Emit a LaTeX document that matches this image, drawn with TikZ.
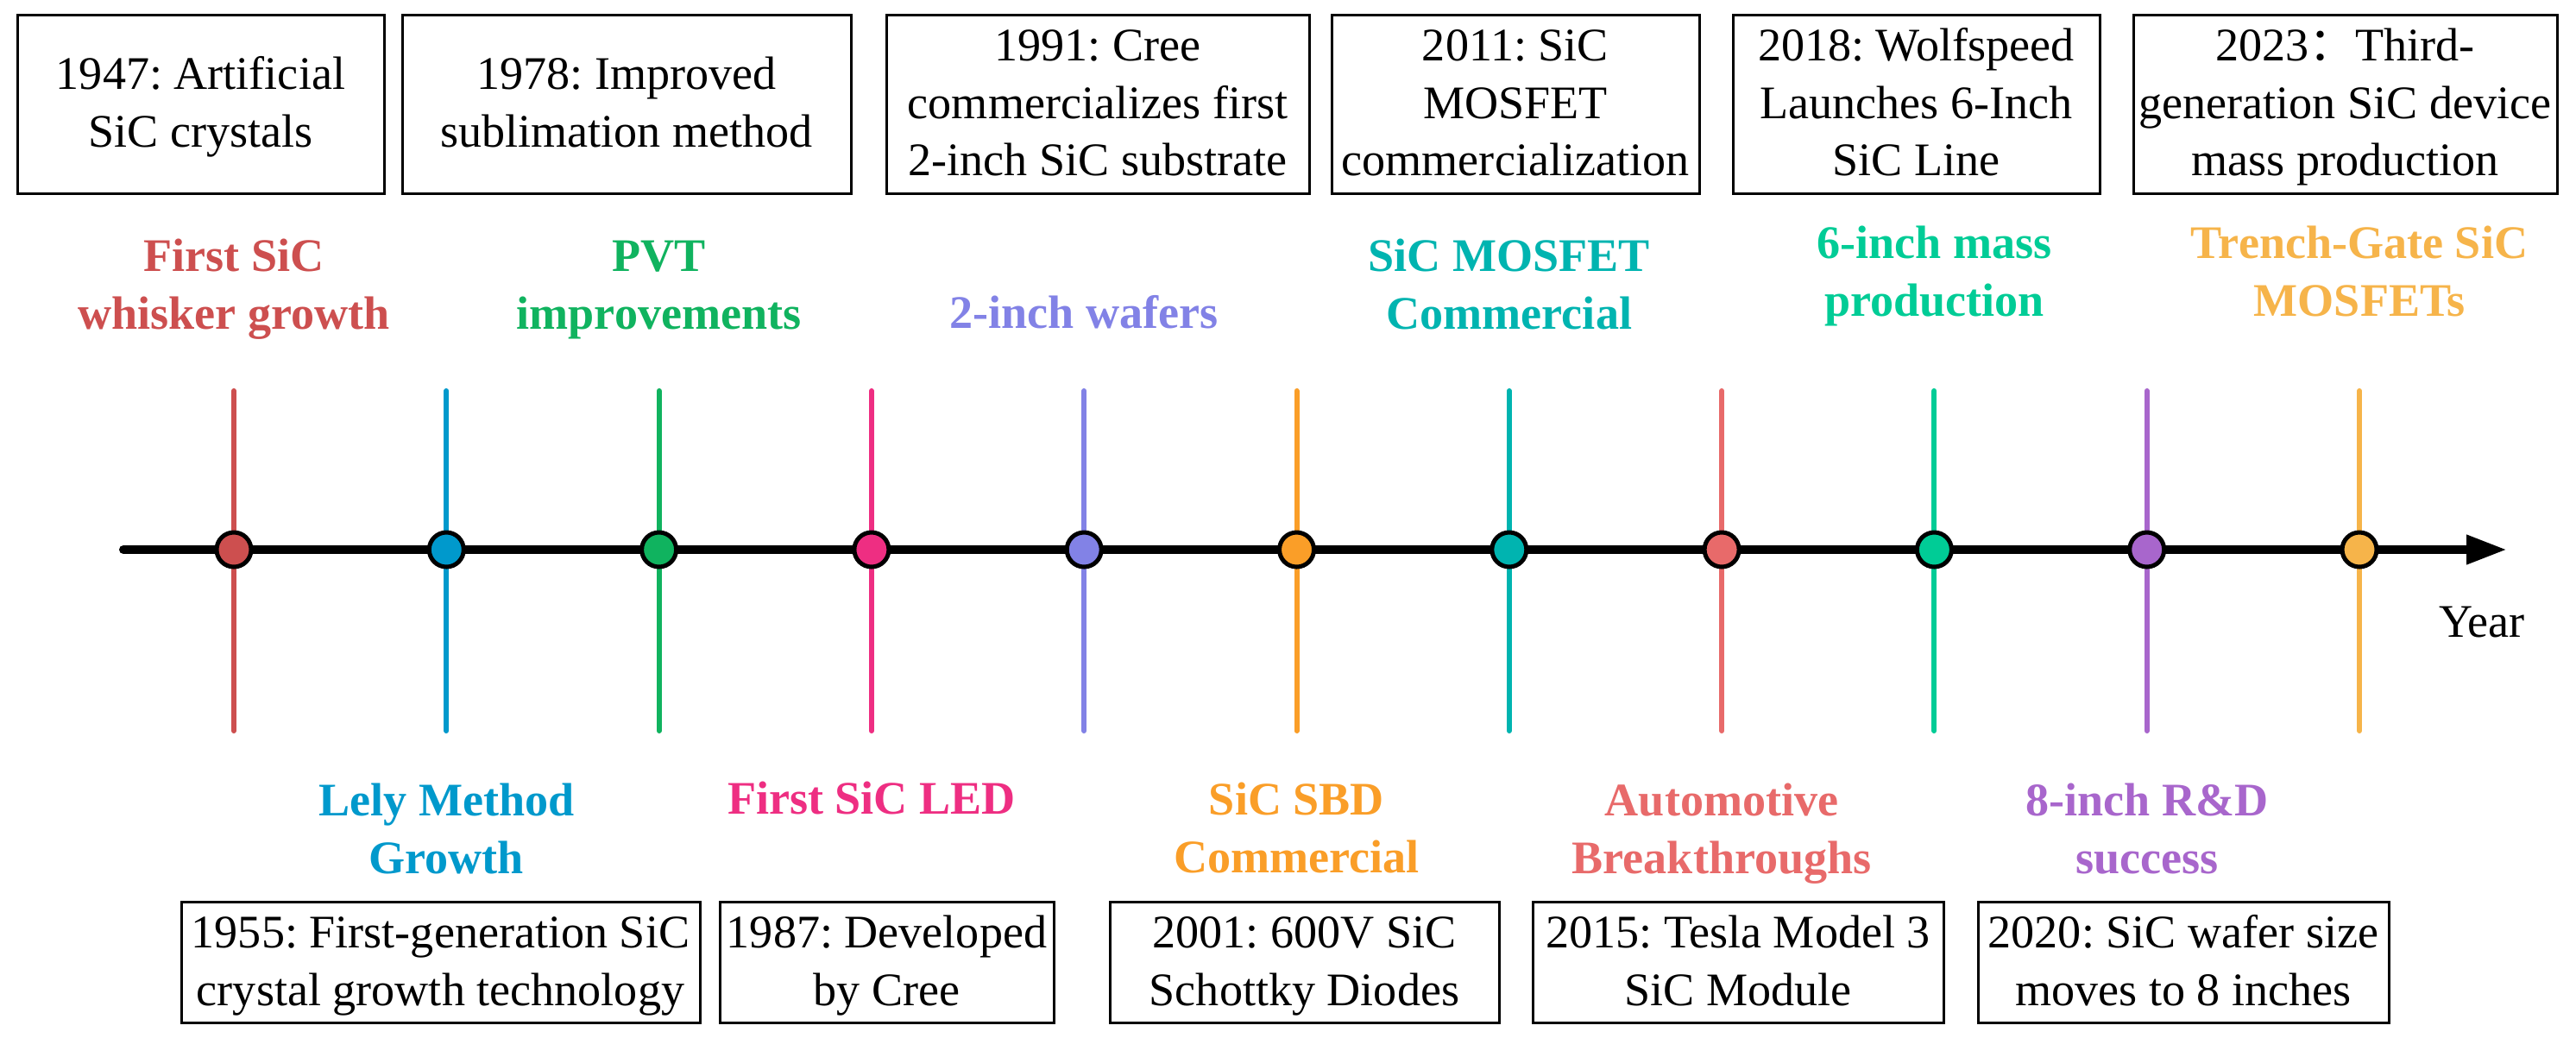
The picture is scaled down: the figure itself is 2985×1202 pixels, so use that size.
\documentclass[tikz,border=0pt]{standalone}
\usepackage{fontspec}
\setmainfont{Liberation Serif}
\newfontfamily\cjkfont{Noto Sans CJK SC}
\usetikzlibrary{arrows.meta}
\frenchspacing
\definecolor{c0}{HTML}{CD4F4F}
\definecolor{c1}{HTML}{0099CC}
\definecolor{c2}{HTML}{10B35F}
\definecolor{c3}{HTML}{EE2E82}
\definecolor{c4}{HTML}{8282E6}
\definecolor{c5}{HTML}{FA9E28}
\definecolor{c6}{HTML}{00B4B0}
\definecolor{c7}{HTML}{E86A6A}
\definecolor{c8}{HTML}{00CC96}
\definecolor{c9}{HTML}{A866CC}
\definecolor{c10}{HTML}{F6B44A}
\newcommand\ms{\rule[-3.5pt]{0pt}{16.5pt}}
\tikzset{
  txt/.style={font=\fontsize{15.4pt}{19pt}\selectfont\frenchspacing, align=center, inner sep=0pt},
  lab/.style={txt, font=\fontsize{15.4pt}{19pt}\selectfont\bfseries\frenchspacing},
  evbox/.style={txt, draw=black, line width=0.3mm},
  dot/.style={circle, draw=black, line width=0.5mm, minimum size=4mm, inner sep=0pt},
  vline/.style={line width=0.6mm, line cap=round},
}
\begin{document}
\begin{tikzpicture}[x=0.1mm,y=-0.1mm]
\path[fill=white, use as bounding box] (0,0) rectangle (2985,1202);

% vertical lines
\foreach \i/\c in {0/c0,1/c1,2/c2,3/c3,4/c4,5/c5,6/c6,7/c7,8/c8,9/c9,10/c10}{
  \coordinate (t\i) at ({271+246.3*\i},453);
  \coordinate (b\i) at ({271+246.3*\i},847);
  \draw[vline, draw=\c] (t\i) -- (b\i);
}

% axis
\coordinate (axs) at (143,637);
\coordinate (axe) at (2905,637);
\draw[line width=1mm, line cap=round, -{Triangle[length=4.7mm,width=3.2mm]}] (axs) -- (axe);

% dots
\foreach \i/\c in {0/c0,1/c1,2/c2,3/c3,4/c4,5/c5,6/c6,7/c7,8/c8,9/c9,10/c10}{
  \node[dot, fill=\c] (d\i) at ({271+246.3*\i},637) {};
}

\node[txt] (year) at (2876,721.5) {\ms Year};

% top labels
\node[lab, text=c0] (l0) at (271,331) {\ms First SiC\\\ms whisker growth};
\node[lab, text=c2] (l2) at (763.6,331) {\ms PVT\\\ms improvements};
\node[lab, text=c4] (l4) at (1256.2,364) {\ms 2-inch wafers};
\node[lab, text=c6] (l6) at (1748.8,331) {\ms SiC MOSFET\\\ms Commercial};
\node[lab, text=c8] (l8) at (2241.4,316.5) {\ms 6-inch mass\\\ms production};
\node[lab, text=c10] (l10) at (2734,316.5) {\ms Trench-Gate SiC\\\ms MOSFETs};

% bottom labels
\node[lab, text=c1] (l1) at (517.3,962) {\ms Lely Method\\\ms Growth};
\node[lab, text=c3] (l3) at (1009.9,927) {\ms First SiC LED};
\node[lab, text=c5] (l5) at (1502.5,961) {\ms SiC SBD\\\ms Commercial};
\node[lab, text=c7] (l7) at (1995.1,962) {\ms Automotive\\\ms Breakthroughs};
\node[lab, text=c9] (l9) at (2487.7,962) {\ms 8-inch R\&D\\\ms success};

% top boxes
\node[evbox, minimum width=42.5mm, minimum height=20.7mm] (e1947) at (232.5,120.5) {\ms 1947: Artificial\\\ms SiC crystals};
\node[evbox, minimum width=52.0mm, minimum height=20.7mm] (e1978) at (726,120.5) {\ms 1978: Improved\\\ms sublimation method};
\node[evbox, minimum width=49.0mm, minimum height=20.7mm] (e1991) at (1272,120.5) {\ms 1991: Cree\\\ms commercializes first\\\ms 2-inch SiC substrate};
\node[evbox, minimum width=42.6mm, minimum height=20.7mm] (e2011) at (1756,120.5) {\ms 2011: SiC\\\ms MOSFET\\\ms commercialization};
\node[evbox, minimum width=42.5mm, minimum height=20.7mm] (e2018) at (2220.5,120.5) {\ms 2018: Wolfspeed\\\ms Launches 6-Inch\\\ms SiC Line};
\node[evbox, minimum width=49.1mm, minimum height=20.7mm] (e2023) at (2717.5,120.5) {\ms 2023{\cjkfont ：}Third-\\\ms generation SiC device\\\ms mass production};

% bottom boxes
\node[evbox, minimum width=60.1mm, minimum height=14.0mm] (e1955) at (510.5,1115) {\ms 1955: First-generation SiC\\\ms crystal growth technology};
\node[evbox, minimum width=38.7mm, minimum height=14.0mm] (e1987) at (1027.5,1115) {\ms 1987: Developed\\\ms by Cree};
\node[evbox, minimum width=45.1mm, minimum height=14.0mm] (e2001) at (1511.5,1115) {\ms 2001: 600V SiC\\\ms Schottky Diodes};
\node[evbox, minimum width=47.6mm, minimum height=14.0mm] (e2015) at (2014,1115) {\ms 2015: Tesla Model 3\\\ms SiC Module};
\node[evbox, minimum width=47.6mm, minimum height=14.0mm] (e2020) at (2530,1115) {\ms 2020: SiC wafer size\\\ms moves to 8 inches};
\end{tikzpicture}
\end{document}
